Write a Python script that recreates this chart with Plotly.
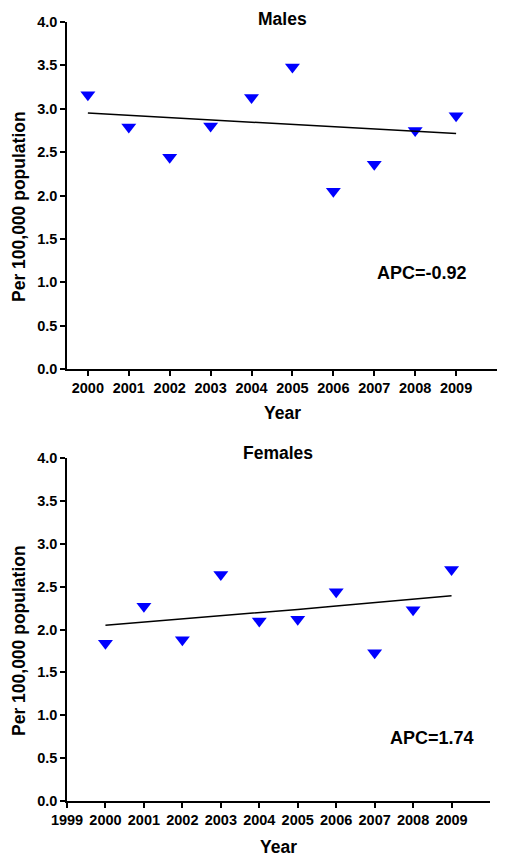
import plotly.graph_objects as go

years = [2000, 2001, 2002, 2003, 2004, 2005, 2006, 2007, 2008, 2009]
males = [3.16, 2.79, 2.44, 2.80, 3.13, 3.48, 2.05, 2.36, 2.75, 2.92]
females = [1.84, 2.27, 1.88, 2.64, 2.10, 2.12, 2.44, 1.73, 2.23, 2.70]
males_trend_start, males_apc = 2.95, -0.92
females_trend_start, females_apc = 2.05, 1.74
y_ticks = [0.0, 0.5, 1.0, 1.5, 2.0, 2.5, 3.0, 3.5, 4.0]
y_tick_labels = ["0.0", "0.5", "1.0", "1.5", "2.0", "2.5", "3.0", "3.5", "4.0"]
top_x_ticks = years
bottom_x_ticks = [1999] + years

# page body has an 8px default margin; size the figure so it fits the window
OFF = 8
W, H = 506 - OFF, 863 - OFF
FONT = "Liberation Sans, Arial, sans-serif"


def trend(start, apc):
    return [start * (1 + apc / 100) ** (y - years[0]) for y in years]


def px_x(p):
    return (p - OFF) / W


def px_y(p):
    return 1 - (p - OFF) / H


fig = go.Figure()

marker = dict(symbol="triangle-down", size=13, color="#0000FF", line=dict(width=0))

fig.add_trace(go.Scatter(x=years, y=males, mode="markers", marker=marker,
                         xaxis="x", yaxis="y", showlegend=False))
fig.add_trace(go.Scatter(x=years, y=trend(males_trend_start, males_apc), mode="lines",
                         line=dict(color="black", width=1.5), xaxis="x", yaxis="y",
                         showlegend=False))
fig.add_trace(go.Scatter(x=years, y=females, mode="markers", marker=marker,
                         xaxis="x2", yaxis="y2", showlegend=False))
fig.add_trace(go.Scatter(x=years, y=trend(females_trend_start, females_apc), mode="lines",
                         line=dict(color="black", width=1.5), xaxis="x2", yaxis="y2",
                         showlegend=False))

tickfont = dict(family=FONT, size=14.5, color="black", weight="bold")
axis_common = dict(showgrid=False, zeroline=False, showline=True, linecolor="black",
                   linewidth=1.5, ticks="outside", ticklen=5, tickwidth=1.5,
                   tickcolor="black", tickfont=tickfont, automargin=False)

fig.update_layout(
    width=W, height=H,
    margin=dict(l=0, r=0, t=0, b=0, pad=0),
    paper_bgcolor="white", plot_bgcolor="white",
    xaxis=dict(domain=[px_x(67), px_x(497)], range=[1999.49, 2010.0],
               tickvals=top_x_ticks, ticktext=[str(v) for v in top_x_ticks],
               anchor="y", **axis_common),
    yaxis=dict(domain=[px_y(369), px_y(22)], range=[0, 4.0],
               tickvals=y_ticks, ticktext=y_tick_labels, anchor="x", **axis_common),
    xaxis2=dict(domain=[px_x(67), px_x(490)], range=[1999, 2010.0],
                tickvals=bottom_x_ticks, ticktext=[str(v) for v in bottom_x_ticks],
                anchor="y2", **axis_common),
    yaxis2=dict(domain=[px_y(801), px_y(458)], range=[0, 4.0],
                tickvals=y_ticks, ticktext=y_tick_labels, anchor="x2", **axis_common),
)

def ann(text, x, y, size, angle=0, xref="paper", yref="paper"):
    fig.add_annotation(text=text, x=x, y=y, xref=xref, yref=yref, showarrow=False,
                       textangle=angle, xanchor="center", yanchor="middle",
                       font=dict(family=FONT, size=size, color="black", weight="bold"))

ann("Males", px_x(282), px_y(19), 17.5)
ann("Females", px_x(278), px_y(453), 17.5)
ann("Year", px_x(282), px_y(413), 17.5)
ann("Year", px_x(278), px_y(847), 17.5)
ann("Per 100,000 population", px_x(19), px_y(207), 17.5, angle=-90)
ann("Per 100,000 population", px_x(19), px_y(641), 17.5, angle=-90)
ann("APC=-0.92", 2008.17, 1.11, 18, xref="x", yref="y")
ann("APC=1.74", 2008.48, 0.74, 18, xref="x2", yref="y2")

fig.write_html("out.html")
